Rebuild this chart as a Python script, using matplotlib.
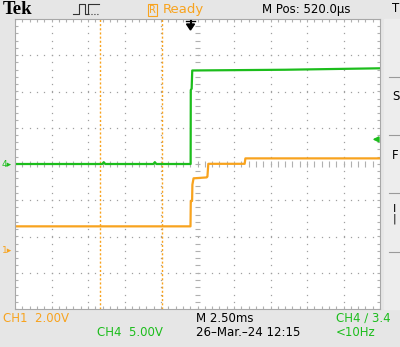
import numpy as np
import matplotlib.pyplot as plt
from matplotlib.lines import Line2D

# scope settings
time_scale = 2.5     # ms/div
m_pos = 0.52         # ms, M Pos
ch1_scale = 2.0      # V/div
ch4_scale = 5.0      # V/div
ch1_offset = -2.37   # div, ground marker of CH1
ch4_offset = 0.0     # div, ground marker of CH4
trig_level = 3.4     # V on CH4

# CH4 (green) trace, breakpoints in ms / V
t_ch4 = [-11.98, -6.0, -5.9, -5.8, -2.5, -2.4, -2.3, 0.05, 0.06, 0.12, 0.16, 6.5, 13.02]
v_ch4 = [0.0, 0.0, 0.25, 0.0, 0.0, 0.25, 0.0, 0.0, 10.2, 10.4, 12.9, 13.0, 13.2]

# CH1 (orange) trace
t_ch1 = [-11.98, 0.04, 0.06, 0.15, 0.17, 0.25, 1.15, 1.2, 1.26, 3.75, 3.8, 13.02]
v_ch1 = [1.3, 1.3, 2.7, 2.7, 3.6, 3.95, 4.0, 4.05, 4.75, 4.75, 5.05, 5.05]

# time cursors
cursor_t = [-6.16, -1.93]

ORANGE = '#f8a31e'
GREEN = '#1cbd1c'
W, H = 400, 347


def tx(t):
    return (np.asarray(t) - m_pos) / time_scale


def fx(px):
    return px / W


def fy(py):
    return 1 - py / H


fig = plt.figure(figsize=(4, 3.47), dpi=100, facecolor='#e6e6e6')
ax = fig.add_axes([fx(15), fy(309), 365 / W, 290 / H])
ax.set_facecolor('white')
ax.set_xlim(-5, 5)
ax.set_ylim(-4, 4)
ax.set_xticks([])
ax.set_yticks([])
for s in ax.spines.values():
    s.set_color('#a8a8a8')
    s.set_linewidth(0.8)

# dotted graticule
dots = np.arange(-4, 4.01, 0.2)
for gx in range(-4, 5):
    if gx != 0:
        ax.plot([gx] * len(dots), dots, ls='none', marker='s', ms=0.9, color='#a0a0a0', mew=0)
dots = np.arange(-5, 5.01, 0.2)
for gy in range(-3, 4):
    if gy != 0:
        ax.plot(dots, [gy] * len(dots), ls='none', marker='s', ms=0.9, color='#a0a0a0', mew=0)

# center crosshair ticks and border ticks
yt = np.arange(-4, 4.01, 0.2)
xt = np.arange(-5, 5.01, 0.2)
ax.hlines(yt, -0.07, 0.07, color='#b0b0b0', lw=0.8)
ax.vlines(xt, -0.07, 0.07, color='#b0b0b0', lw=0.8)
ax.hlines(yt, -5, -4.93, color='#b0b0b0', lw=0.8)
ax.hlines(yt, 4.93, 5, color='#b0b0b0', lw=0.8)
ax.vlines(xt, 3.92, 4, color='#b0b0b0', lw=0.8)
ax.vlines(xt, -4, -3.92, color='#b0b0b0', lw=0.8)

# cursors
for c in cursor_t:
    ax.axvline(tx(c), color=ORANGE, lw=1, ls=(0, (1.5, 1.5)))

# traces
ax.plot(tx(t_ch1), np.asarray(v_ch1) / ch1_scale + ch1_offset, color=ORANGE, lw=1.6)
ax.plot(tx(t_ch4), np.asarray(v_ch4) / ch4_scale + ch4_offset, color=GREEN, lw=1.6)

# trigger level arrow on the right
lvl = trig_level / ch4_scale + ch4_offset
ax.annotate('', xy=(4.72, lvl), xytext=(5.0, lvl),
            arrowprops=dict(arrowstyle='-|>', color=GREEN, lw=1.2, mutation_scale=8))

# trigger position arrow on top
fig.add_artist(Line2D([fx(186), fx(195)], [fy(21), fy(21)], color='black', lw=1))
fig.patches.append(plt.Polygon([[fx(186.5), fy(24)], [fx(194.5), fy(24)], [fx(190.5), fy(30)]],
                               closed=True, color='black', transform=fig.transFigure))
fig.add_artist(Line2D([fx(190.5), fx(190.5)], [fy(21), fy(25)], color='black', lw=1.5))

# ground markers on the left
fig.text(fx(2), fy(164), '4\u25b8', color=GREEN, fontsize=6.5, va='center', ha='left')
fig.text(fx(2), fy(164 - ch1_offset * 36.25 + 1), '1\u25b8', color=ORANGE, fontsize=6.5,
         va='center', ha='left')

# header
fig.text(fx(3), fy(10), 'Tek', fontsize=13.5, fontweight='bold', family='Liberation Serif',
         va='center', ha='left')
fig.add_artist(Line2D([fx(p) for p in [73, 79, 79, 85, 85, 88, 88, 99]],
                      [fy(p) for p in [14, 14, 4, 4, 14, 14, 4, 4]],
                      color='#333333', lw=0.8))
fig.add_artist(Line2D([fx(88), fx(99)], [fy(14), fy(14)], color='#333333', lw=0.8, ls=':'))
fig.text(fx(149), fy(10), 'R', color=ORANGE, fontsize=7, va='center', ha='left',
         bbox=dict(boxstyle='square,pad=0.15', fc='none', ec=ORANGE, lw=0.8))
fig.text(fx(163), fy(10), 'Ready', color=ORANGE, fontsize=9.5, va='center', ha='left')
fig.text(fx(262), fy(9), 'M Pos: 520.0\u00b5s', color='black', fontsize=8.5, va='center', ha='left')
fig.text(fx(392), fy(9), 'T', color='black', fontsize=8.5, va='center', ha='left')

# right side menu (cut off)
fig.add_artist(plt.Rectangle((fx(384), fy(309)), 16 / W, 290 / H, color='#ededed',
                             transform=fig.transFigure, zorder=0))
for sy in [77, 135, 193, 252]:
    fig.add_artist(Line2D([fx(389), fx(400)], [fy(sy), fy(sy)], color='#9a9a9a', lw=0.8))
fig.text(fx(392), fy(96), 'S', fontsize=8.5, va='center', ha='left')
fig.text(fx(392), fy(155), 'F', fontsize=8.5, va='center', ha='left')
fig.text(fx(393), fy(214), 'I\n|', fontsize=8, va='center', ha='left', linespacing=0.9)

# bottom readouts
fig.text(fx(3), fy(318), 'CH1  2.00V', color=ORANGE, fontsize=8.5, va='center', ha='left')
fig.text(fx(97), fy(333), 'CH4  5.00V', color=GREEN, fontsize=8.5, va='center', ha='left')
fig.text(fx(196), fy(318), 'M 2.50ms', color='black', fontsize=8.5, va='center', ha='left')
fig.text(fx(196), fy(333), '26\u2013Mar.\u201324 12:15', color='black', fontsize=8.5,
         va='center', ha='left')
fig.text(fx(336), fy(318), 'CH4 \u2215 3.4', color=GREEN, fontsize=8.5, va='center', ha='left')
fig.text(fx(336), fy(333), '<10Hz', color=GREEN, fontsize=8.5, va='center', ha='left')

fig.savefig('out.png', dpi=100, facecolor=fig.get_facecolor())
